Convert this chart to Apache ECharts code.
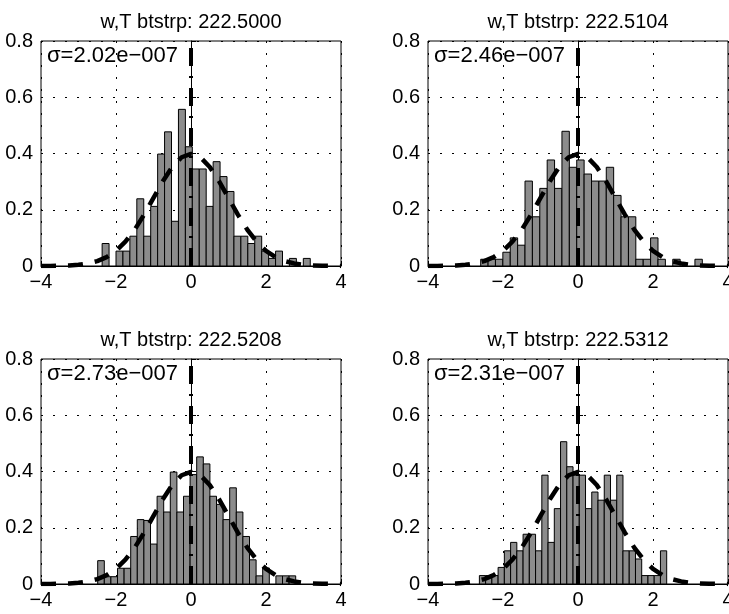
<!DOCTYPE html>
<html>
<head>
<meta charset="utf-8">
<script src="https://cdn.jsdelivr.net/npm/echarts@6/dist/echarts.min.js"></script>
<style>
html,body{margin:0;padding:0;background:#fff;}
#chart{width:729px;height:614px;}
</style>
</head>
<body>
<div id="chart"></div>
<script>
// ---- data ----
const titles = ['w,T btstrp: 222.5000', 'w,T btstrp: 222.5104', 'w,T btstrp: 222.5208', 'w,T btstrp: 222.5312'];
const sigmaLabels = ['σ=2.02e\u2212007', 'σ=2.46e\u2212007', 'σ=2.73e\u2212007', 'σ=2.31e\u2212007'];

// histogram bins: first bin left edge and bin width (data units)
const binStarts = [-2.37, -2.595, -2.488, -2.63];
const binWidths = [0.185, 0.197, 0.176, 0.1665];

const heights1 = [0.080, 0, 0.053, 0.053, 0.106, 0.239, 0.106, 0.212, 0.398, 0.477,
                  0.159, 0.557, 0.424, 0.345, 0.345, 0.212, 0.371, 0.318, 0.265, 0.106,
                  0.106, 0.080, 0.106, 0.053, 0.027, 0.053, 0, 0.027, 0, 0.027];
const heights2 = [0.024, 0.024, 0.024, 0.049, 0.100, 0.074, 0.302, 0.175, 0.276, 0.377,
                  0.276, 0.479, 0.351, 0.377, 0.327, 0.302, 0.302, 0.351, 0.251, 0.175,
                  0.175, 0.024, 0.024, 0.100, 0.024, 0, 0.024, 0, 0, 0.024];
const heights3 = [0.083, 0.026, 0.026, 0.056, 0.056, 0.169, 0.229, 0.226, 0.142, 0.312,
                  0.256, 0.398, 0.256, 0.312, 0.389, 0.452, 0.427, 0.312, 0.283, 0.229,
                  0.342, 0.256, 0.169, 0.086, 0.029, 0.057, 0, 0.029, 0.029, 0.029];
const heights4 = [0.030, 0.030, 0.030, 0.059, 0.118, 0.148, 0.118, 0.177, 0.177, 0.118,
                  0.387, 0.148, 0.268, 0.506, 0.417, 0.387, 0.387, 0.268, 0.327, 0.298,
                  0.387, 0.298, 0.387, 0.118, 0.118, 0.089, 0.030, 0.030, 0.030, 0.118];
const allHeights = [heights1, heights2, heights3, heights4];

// reference density curve (dashed)
const curveX = [-4, -3.75, -3.5, -3.25, -3, -2.75, -2.5, -2.25, -2, -1.75, -1.5, -1.25, -1, -0.75, -0.5, -0.25,
                0, 0.25, 0.5, 0.75, 1, 1.25, 1.5, 1.75, 2, 2.25, 2.5, 2.75, 3, 3.25, 3.5, 3.75, 4];
const curveY = [0.0001, 0.0004, 0.0009, 0.0020, 0.0044, 0.0091, 0.0175, 0.0317, 0.0540, 0.0863, 0.1295, 0.1826,
                0.2420, 0.3011, 0.3521, 0.3867, 0.3989, 0.3867, 0.3521, 0.3011, 0.2420, 0.1826, 0.1295, 0.0863,
                0.0540, 0.0317, 0.0175, 0.0091, 0.0044, 0.0020, 0.0009, 0.0004, 0.0001];

// vertical marker line at x = 0
const markerX = [0, 0];
const markerY = [0, 0.8];

const xRange = [-4, 4], xStep = 2;
const yRange = [0, 0.8], yStep = 0.2;

// ---- layout ----
const FONT = "'Liberation Sans', Arial, Helvetica, sans-serif";
const FS = 20;
const FS_SIGMA = 22;
const gridsPx = [
  {left: 41, top: 41, width: 300, height: 225},
  {left: 428, top: 41, width: 300, height: 225},
  {left: 41, top: 359, width: 300, height: 225},
  {left: 428, top: 359, width: 300, height: 225}
];

const chart = echarts.init(document.getElementById('chart'), null, {renderer: 'canvas'});

const grid = [], xAxis = [], yAxis = [], series = [], graphic = [];

gridsPx.forEach((g, i) => {
  grid.push(Object.assign({show: true, borderColor: '#000', borderWidth: 1, backgroundColor: 'transparent',
                           containLabel: false, outerBoundsMode: 'none'}, g));
  xAxis.push({
    type: 'value', gridIndex: i, min: xRange[0], max: xRange[1], interval: xStep,
    axisLine: {show: true, lineStyle: {color: '#000', width: 1}},
    axisTick: {show: true, inside: true, length: 5, lineStyle: {color: '#000'}},
    axisLabel: {color: '#000', fontSize: FS, fontFamily: FONT, margin: 6, hideOverlap: false,
      formatter: v => (v < 0 ? '\u2212' + Math.abs(v) : String(v))},
    splitLine: {show: true, lineStyle: {color: '#000', width: 1, type: [2, 10]}}
  });
  yAxis.push({
    type: 'value', gridIndex: i, min: yRange[0], max: yRange[1], interval: yStep,
    axisLine: {show: true, lineStyle: {color: '#000', width: 1}},
    axisTick: {show: true, inside: true, length: 5, lineStyle: {color: '#000'}},
    axisLabel: {color: '#000', fontSize: FS, fontFamily: FONT, margin: 8},
    splitLine: {show: true, lineStyle: {color: '#000', width: 1, type: [2, 10]}}
  });

  const hs = allHeights[i];
  const barData = hs.map((h, k) => [binStarts[i] + k * binWidths[i], binStarts[i] + (k + 1) * binWidths[i], h]);
  series.push({
    type: 'custom', xAxisIndex: i, yAxisIndex: i, z: 2,
    encode: {x: [0, 1], y: 2},
    data: barData,
    renderItem: (params, api) => {
      const h = api.value(2);
      if (!h) return null;
      const p0 = api.coord([api.value(0), h]);
      const p1 = api.coord([api.value(1), 0]);
      return {
        type: 'rect',
        shape: {x: p0[0], y: p0[1], width: p1[0] - p0[0], height: p1[1] - p0[1]},
        style: {fill: '#8c8c8c', stroke: '#000', lineWidth: 1}
      };
    }
  });
  series.push({
    type: 'line', xAxisIndex: i, yAxisIndex: i, z: 4,
    data: curveX.map((x, k) => [x, curveY[k]]),
    showSymbol: false, symbol: 'none', smooth: false, silent: true,
    lineStyle: {color: '#000', width: 4.5, type: [15, 12], cap: 'butt'}
  });
  series.push({
    type: 'line', xAxisIndex: i, yAxisIndex: i, z: 5,
    data: markerX.map((x, k) => [x, markerY[k]]),
    showSymbol: false, symbol: 'none', silent: true,
    lineStyle: {color: '#000', width: 4, type: [18, 10, 2, 10], cap: 'butt'}
  });

  graphic.push({
    type: 'text', x: g.left + g.width / 2, y: g.top - 19, silent: true,
    style: {text: titles[i], fill: '#000', font: FS + 'px ' + FONT, textAlign: 'center', textVerticalAlign: 'middle'}
  });
  graphic.push({
    type: 'text', x: g.left + 6, y: g.top + 15, silent: true, z: 10,
    style: {text: sigmaLabels[i], fill: '#000', font: FS_SIGMA + 'px ' + FONT, textAlign: 'left', textVerticalAlign: 'middle'}
  });
});

chart.setOption({
  animation: false,
  backgroundColor: '#fff',
  grid, xAxis, yAxis, series, graphic
});
</script>
</body>
</html>
